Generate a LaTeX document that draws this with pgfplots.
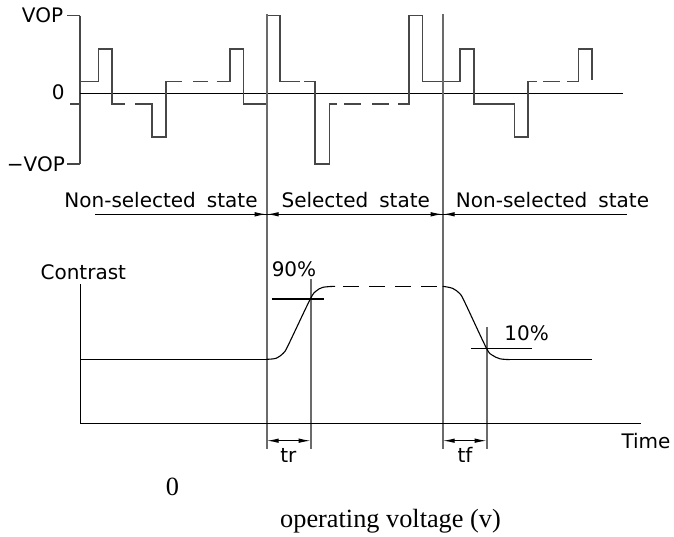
\documentclass[border=0pt]{standalone}
\usepackage{fontspec}
\setmainfont{DejaVu Sans}
\newfontfamily\seriffont{Liberation Serif}
\usepackage{pgfplots}
\pgfplotsset{compat=1.18}
\usetikzlibrary{arrows.meta}
\newcommand{\ws}{\hspace{11pt}}
\tikzset{
  wave/.style={black!72,line width=1.6pt,line join=miter},
  vline/.style={black!58,line width=1.6pt},
  bl/.style={black,line width=1.1pt},
  cad/.style={font=\fontsize{20}{24}\selectfont,inner sep=0pt},
  ser/.style={font=\seriffont\fontsize{26.3}{30}\selectfont,inner sep=0pt},
  tip/.style={black,line width=1.1pt,-{Latex[length=12pt,width=4.5pt]}}}
\begin{document}
\begin{tikzpicture}
\begin{axis}[width=674pt,height=537pt,scale only axis,
  xmin=0,xmax=674,ymin=0,ymax=537,y dir=reverse,hide axis,clip=false]
% frame for bounding box
\addplot[draw=none] coordinates {(0,0) (674,537)};
% waveform axis
\addplot[wave] coordinates {(80,15.7) (80,164.3)};
\addplot[wave] coordinates {(67,15.7) (80,15.7)};
\addplot[wave] coordinates {(67,164.3) (80,164.3)};
\addplot[wave] coordinates {(70,104.3) (80,104.3)};
\addplot[bl] coordinates {(80,93.3) (623,93.3)};
% waveform
\addplot[wave] coordinates {(80,81.7) (98.3,81.7) (98.3,49) (112,49) (112,104.3) (125,104.3)};
\addplot[wave] coordinates {(135,104.3) (151.7,104.3) (151.7,137) (165.7,137) (165.7,81.7) (181.7,81.7)};
\addplot[wave] coordinates {(193,81.7) (208.3,81.7)};
\addplot[wave] coordinates {(216.7,81.7) (230,81.7) (230,49) (243.3,49) (243.3,104.3) (266.7,104.3) (266.7,15.7) (280,15.7) (280,81.7) (300,81.7)};
\addplot[wave] coordinates {(304,81.7) (315,81.7) (315,164.3) (329.3,164.3) (329.3,104.3) (337,104.3)};
\addplot[wave] coordinates {(344,104.3) (361,104.3)};
\addplot[wave] coordinates {(372,104.3) (389,104.3)};
\addplot[wave] coordinates {(398,104.3) (409,104.3) (409,15.7) (422.3,15.7) (422.3,81.7) (460,81.7) (460,49) (474,49) (474,104.3) (514.3,104.3) (514.3,137) (527.7,137) (527.7,81.7) (537,81.7)};
\addplot[wave] coordinates {(543,81.7) (560,81.7)};
\addplot[wave] coordinates {(567,81.7) (578.3,81.7) (578.3,49) (591.7,49) (591.7,80)};
% long verticals
\addplot[vline] coordinates {(266.7,14) (266.7,449)};
\addplot[vline] coordinates {(442.7,14) (442.7,449)};
\addplot[vline] coordinates {(310.7,279) (310.7,449)};
\addplot[vline] coordinates {(486.7,327) (486.7,449)};
% state arrows
\addplot[bl] coordinates {(95,214.3) (626.7,214.3)};
\addplot[tip] coordinates {(245,214.3) (266.7,214.3)};
\addplot[tip] coordinates {(288,214.3) (266.7,214.3)};
\addplot[tip] coordinates {(421,214.3) (442.7,214.3)};
\addplot[tip] coordinates {(464,214.3) (442.7,214.3)};
% contrast axes
\addplot[bl] coordinates {(80.7,284.3) (80.7,423.3) (640.7,423.3)};
% contrast curve
\addplot[bl] coordinates {(80.7,359.3) (266.7,359.3)};
\addplot[bl,smooth,tension=0.5] coordinates {(266.7,359.3) (276,358.3) (283.5,353) (288.3,345) (310.3,299) (316.2,291) (323,287.3) (335,286.3)};
\addplot[bl,dash pattern=on 16pt off 10pt,dash phase=-8pt] coordinates {(335,286.3) (442.7,286.3)};
\addplot[bl,smooth,tension=0.5] coordinates {(442.7,286.3) (452.5,288.3) (459.7,293.5) (464.5,301.7) (486.2,347.7) (492,355) (500,358.8) (510,359.6)};
\addplot[bl] coordinates {(510,359.6) (591.7,359.6)};
\addplot[black,line width=1.4pt] coordinates {(271.7,298.8) (324.3,298.8)};
\addplot[black,line width=1.2pt] coordinates {(471,348.7) (531.7,348.7)};
% tr tf
\addplot[black,line width=1.1pt,{Latex[length=12pt,width=4.5pt]}-{Latex[length=12pt,width=4.5pt]}] coordinates {(266.7,440.7) (310.7,440.7)};
\addplot[black,line width=1.1pt,{Latex[length=12pt,width=4.5pt]}-{Latex[length=12pt,width=4.5pt]}] coordinates {(442.7,440.7) (486.7,440.7)};
% texts
\node[cad,anchor=base east] at (axis cs:63.3,22.7) {VOP};
\node[cad,anchor=base] at (axis cs:58.3,100) {0};
\node[cad,anchor=base east] at (axis cs:65,171.7) {−VOP};
\node[cad,anchor=base] at (axis cs:161,208) {Non-selected\ws state};
\node[cad,anchor=base] at (axis cs:355.8,208) {Selected\ws state};
\node[cad,anchor=base] at (axis cs:552.5,208) {Non-selected\ws state};
\node[cad,anchor=base] at (axis cs:83.3,279) {Contrast};
\node[cad,anchor=base] at (axis cs:294,276.7) {90\%};
\node[cad,anchor=base] at (axis cs:526.7,340.7) {10\%};
\node[cad,anchor=base] at (axis cs:646,448) {Time};
\node[cad,anchor=base] at (axis cs:288.3,462.7) {tr};
\node[cad,anchor=base] at (axis cs:465,462.7) {tf};
\node[ser,anchor=base] at (axis cs:172.5,495) {0};
\node[ser,anchor=base] at (axis cs:390.5,527.5) {operating voltage (v)};
\end{axis}
\end{tikzpicture}
\end{document}
